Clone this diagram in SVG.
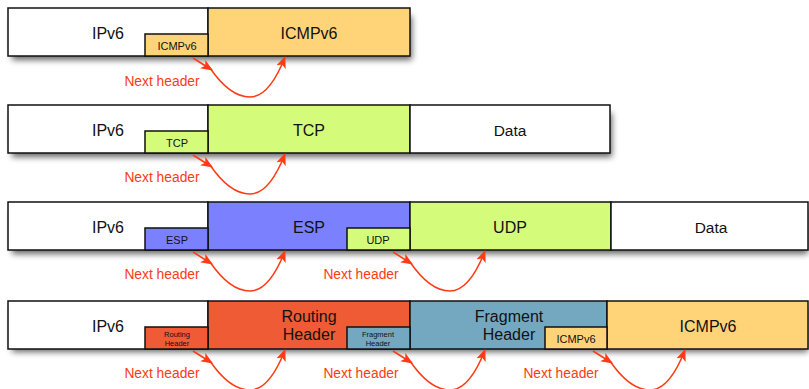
<svg xmlns="http://www.w3.org/2000/svg" width="809" height="389" viewBox="0 0 809 389">
<defs>
<filter id="sh" x="-5%" y="-30%" width="110%" height="180%">
<feGaussianBlur stdDeviation="3"/>
</filter>
<marker id="ah" viewBox="0 0 12 10" refX="11" refY="5" markerWidth="12" markerHeight="10" markerUnits="userSpaceOnUse" orient="auto">
<path d="M0,0 L12,5 L0,10 L3,5 Z" fill="#ff3a14"/>
</marker>
</defs>
<style>
.b{stroke:#111;stroke-width:1.5}
.w{fill:#ffffff}
.o{fill:#ffd479}
.g{fill:#d4fb79}
.u{fill:#7b80fe}
.r{fill:#ef5b34}
.s{fill:#74a8c1}
.t{font-family:"Liberation Sans",Arial,sans-serif;fill:#111;text-anchor:middle}
.L{font-size:16px}
.D{font-size:15.5px}
.S{font-size:11px}
.X{font-size:7.5px}
.n{font-family:"Liberation Sans",Arial,sans-serif;font-size:13.8px;fill:#ff3a14;text-anchor:middle}
.c{fill:none;stroke:#ff3a14;stroke-width:1.5}
.shd{fill:#000;opacity:0.6;filter:url(#sh)}
</style>
<rect class="shd" x="12" y="16" width="400" height="44"/>
<rect class="shd" x="12" y="113" width="600" height="44"/>
<rect class="shd" x="12" y="210" width="796" height="44"/>
<rect class="shd" x="12" y="308" width="796" height="44"/>

<g id="r1-ipv6"><rect class="b w" x="8" y="8" width="200" height="48"/><text class="t L" x="108" y="39">IPv6</text></g>
<g id="r1-icmp"><rect class="b o" x="208" y="8" width="202" height="48"/><text class="t L" x="309" y="39">ICMPv6</text></g>
<g id="r1-nh"><rect class="b o" x="145" y="34" width="63" height="22"/><text class="t S" x="177" y="50">ICMPv6</text></g>

<g id="r2-ipv6"><rect class="b w" x="8" y="105" width="200" height="48"/><text class="t L" x="108" y="136">IPv6</text></g>
<g id="r2-tcp"><rect class="b g" x="208" y="105" width="202" height="48"/><text class="t L" x="309" y="136">TCP</text></g>
<g id="r2-data"><rect class="b w" x="410" y="105" width="200" height="48"/><text class="t D" x="510" y="136">Data</text></g>
<g id="r2-nh"><rect class="b g" x="145" y="131" width="63" height="22"/><text class="t S" x="177" y="147">TCP</text></g>

<g id="r3-ipv6"><rect class="b w" x="8" y="202" width="200" height="48"/><text class="t L" x="108" y="233">IPv6</text></g>
<g id="r3-esp"><rect class="b u" x="208" y="202" width="202" height="48"/><text class="t L" x="309" y="233">ESP</text></g>
<g id="r3-udp"><rect class="b g" x="410" y="202" width="201" height="48"/><text class="t L" x="510" y="233">UDP</text></g>
<g id="r3-data"><rect class="b w" x="611" y="202" width="197" height="48"/><text class="t D" x="711" y="233">Data</text></g>
<g id="r3-nh1"><rect class="b u" x="145" y="228" width="63" height="22"/><text class="t S" x="177" y="244">ESP</text></g>
<g id="r3-nh2"><rect class="b g" x="347" y="228" width="63" height="22"/><text class="t S" x="378" y="244">UDP</text></g>

<g id="r4-ipv6"><rect class="b w" x="8" y="301" width="200" height="48"/><text class="t L" x="108" y="332">IPv6</text></g>
<g id="r4-routing"><rect class="b r" x="208" y="301" width="202" height="48"/><text class="t L" x="309" y="322">Routing</text><text class="t L" x="309" y="340">Header</text></g>
<g id="r4-frag"><rect class="b s" x="410" y="301" width="197" height="48"/><text class="t L" x="509" y="322">Fragment</text><text class="t L" x="509" y="340">Header</text></g>
<g id="r4-icmp"><rect class="b o" x="607" y="301" width="201" height="48"/><text class="t L" x="708" y="332">ICMPv6</text></g>
<g id="r4-nh1"><rect class="b r" x="145" y="327" width="63" height="22"/><text class="t X" x="177" y="337">Routing</text><text class="t X" x="177" y="346">Header</text></g>
<g id="r4-nh2"><rect class="b s" x="347" y="327" width="63" height="22"/><text class="t X" x="378" y="337">Fragment</text><text class="t X" x="378" y="346">Header</text></g>
<g id="r4-nh3"><rect class="b o" x="545" y="327" width="62" height="22"/><text class="t S" x="576" y="343">ICMPv6</text></g>

<g id="labels">
<text class="n" x="162" y="86">Next header</text>
<text class="n" x="162" y="182">Next header</text>
<text class="n" x="162" y="279">Next header</text>
<text class="n" x="361" y="279">Next header</text>
<text class="n" x="162" y="378">Next header</text>
<text class="n" x="361" y="378">Next header</text>
<text class="n" x="561" y="378">Next header</text>
</g>

<g id="connectors">
<g transform="translate(0,0)"><path class="c" d="M193,58 L212,70" marker-end="url(#ah)"/><path class="c" d="M210,68 C225,90 238,97 250,97 C264,97 276,80 285,57" marker-end="url(#ah)"/></g>
<g transform="translate(0,97)"><path class="c" d="M193,58 L212,70" marker-end="url(#ah)"/><path class="c" d="M210,68 C225,90 238,97 250,97 C264,97 276,80 285,57" marker-end="url(#ah)"/></g>
<g transform="translate(0,194)"><path class="c" d="M193,58 L212,70" marker-end="url(#ah)"/><path class="c" d="M210,68 C225,90 238,97 250,97 C264,97 276,80 285,57" marker-end="url(#ah)"/></g>
<g transform="translate(200,194)"><path class="c" d="M193,58 L212,70" marker-end="url(#ah)"/><path class="c" d="M210,68 C225,90 238,97 250,97 C264,97 276,80 285,57" marker-end="url(#ah)"/></g>
<g transform="translate(0,293)"><path class="c" d="M193,58 L212,70" marker-end="url(#ah)"/><path class="c" d="M210,68 C225,90 238,97 250,97 C264,97 276,80 285,57" marker-end="url(#ah)"/></g>
<g transform="translate(200,293)"><path class="c" d="M193,58 L212,70" marker-end="url(#ah)"/><path class="c" d="M210,68 C225,90 238,97 250,97 C264,97 276,80 285,57" marker-end="url(#ah)"/></g>
<g transform="translate(400,293)"><path class="c" d="M193,58 L212,70" marker-end="url(#ah)"/><path class="c" d="M210,68 C225,90 238,97 250,97 C264,97 276,80 285,57" marker-end="url(#ah)"/></g>
</g>
</svg>
